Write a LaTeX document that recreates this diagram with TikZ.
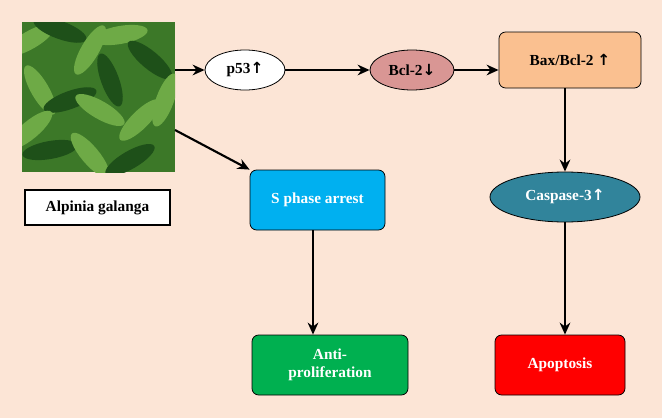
\documentclass[tikz,border=0pt]{standalone}
\usepackage{fontspec}
\setmainfont{Liberation Serif}
\newfontfamily\arr{DejaVu Sans}
\usetikzlibrary{shapes.geometric,arrows.meta}
\definecolor{bg}{RGB}{252,229,214}
\definecolor{bcl}{RGB}{217,150,148}
\definecolor{bax}{RGB}{250,192,144}
\definecolor{casp}{RGB}{49,132,155}
\definecolor{sph}{RGB}{0,176,240}
\definecolor{anti}{RGB}{0,176,80}
\definecolor{leafA}{RGB}{60,120,40}
\definecolor{leafB}{RGB}{110,170,70}
\definecolor{leafC}{RGB}{30,80,25}
\tikzset{
 x=0.75pt,y=-0.75pt,
 lbl/.style={font=\bfseries\fontsize{11.5}{13.5}\selectfont,align=center},
 ell/.style={ellipse,draw=black,line width=0.6pt,lbl,inner sep=0pt},
 box/.style={rounded corners=5pt,draw=black,line width=0.6pt,lbl,inner sep=0pt},
 conn/.style={-{Stealth[length=9pt,width=8pt]},line width=1.6pt}
}
\begin{document}
\begin{tikzpicture}
\useasboundingbox (0,0) rectangle (662,418);
\fill[bg] (0,0) rectangle (662,418);
% photo
\node[draw=none,fill=leafA,minimum width=153*0.75pt,minimum height=150*0.75pt,inner sep=0pt] (photo) at (98.5,97) {};
\begin{scope}
\clip (22,22) rectangle (175,172);
\foreach \x/\y/\a/\c in {30/40/30/leafB,60/30/-20/leafC,90/50/60/leafB,120/35/10/leafB,150/60/-40/leafC,40/90/-60/leafB,70/100/20/leafC,100/110/-30/leafB,140/120/45/leafB,50/150/10/leafC,90/155/-50/leafB,130/160/30/leafC,165/100/70/leafB,30/130/40/leafB,110/80/-70/leafC}
  \fill[\c,rotate around={\a:(\x,\y)}] (\x,\y) ellipse (28 and 9);
\end{scope}
\node[draw=black,line width=1pt,fill=white,lbl,minimum width=145*0.75pt,minimum height=35*0.75pt] (ag) at (97.5,207.5) {Alpinia galanga};
\node[ell,fill=white,minimum width=80*0.75pt,minimum height=40*0.75pt] (p53) at (245,70) {p53{\arr↑}};
\node[ell,fill=bcl,minimum width=84*0.75pt,minimum height=40*0.75pt] (bcl) at (412,70) {Bcl-2{\arr↓}};
\node[box,fill=bax,minimum width=142*0.75pt,minimum height=56*0.75pt] (bax) at (570,60) {Bax/Bcl-2 {\arr↑}};
\node[ell,fill=casp,text=white,minimum width=150*0.75pt,minimum height=50*0.75pt] (casp) at (565,197) {Caspase-3{\arr↑}};
\node[box,fill=sph,text=white,minimum width=135*0.75pt,minimum height=60*0.75pt] (sph) at (317.5,200) {S phase arrest};
\node[box,fill=anti,text=white,minimum width=156*0.75pt,minimum height=60*0.75pt] (anti) at (330,365) {Anti-\\proliferation};
\node[box,fill=red,text=white,minimum width=130*0.75pt,minimum height=60*0.75pt] (apo) at (560,365) {Apoptosis};
\coordinate (pr) at (175,70);
\coordinate (pc) at (175,130);
\draw[conn] (pr) -- (p53);
\draw[conn] (p53) -- (bcl);
\draw[conn] (bcl) -- (bcl -| bax.west);
\draw[conn] (bax.south -| casp) -- (casp);
\draw[conn] (pc) -- (sph.north west);
\draw[conn] (sph.south -| 313,0) -- (anti.north -| 313,0);
\draw[conn] (casp) -- (apo.north -| casp);
\end{tikzpicture}
\end{document}
